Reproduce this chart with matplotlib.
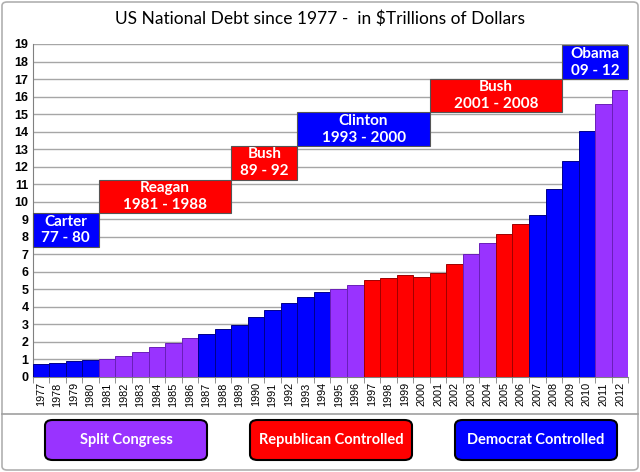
import numpy as np
import matplotlib.pyplot as plt
from matplotlib.patches import Rectangle, FancyBboxPatch
from matplotlib.lines import Line2D

# data
years = list(range(1977, 2013))
debt = [0.72, 0.80, 0.88, 0.97, 1.01, 1.20, 1.43, 1.68, 1.94, 2.23,
        2.44, 2.71, 2.95, 3.39, 3.83, 4.19, 4.55, 4.82, 4.99, 5.22,
        5.51, 5.64, 5.79, 5.70, 5.94, 6.44, 7.01, 7.62, 8.17, 8.71,
        9.26, 10.74, 12.34, 14.04, 15.60, 16.40]
# congress control: S = split, R = republican, D = democrat
control = ['D'] * 4 + ['S'] * 6 + ['D'] * 8 + ['S'] * 2 + ['R'] * 6 + \
          ['S'] * 2 + ['R'] * 2 + ['D'] * 4 + ['S'] * 2

colors = {'S': '#9933FF', 'R': '#FF0000', 'D': '#0000FF'}
edges = {'S': '#6a1fb8', 'R': '#a00000', 'D': '#00008a'}

# presidential terms
pres_names = ['Carter', 'Reagan', 'Bush', 'Clinton', 'Bush', 'Obama']
pres_years = ['77 - 80', '1981 - 1988', '89 - 92', '1993 - 2000', '2001 - 2008', '09 - 12']
pres_start = [1977, 1981, 1989, 1993, 2001, 2009]
pres_end = [1980, 1988, 1992, 2000, 2008, 2012]
pres_party = ['D', 'R', 'R', 'D', 'R', 'D']
pres_low = [7.42, 9.34, 11.25, 13.17, 15.09, 17.0]
box_h = 1.92

legend_labels = ['Split Congress', 'Republican Controlled', 'Democrat Controlled']
legend_keys = ['S', 'R', 'D']

W, H = 640, 472
fig = plt.figure(figsize=(W / 100, H / 100), dpi=100)
fig.patch.set_facecolor('white')

ax = fig.add_axes([32.7 / W, 1 - 376.7 / H, (628.3 - 32.7) / W, (376.7 - 44) / H])

x = np.arange(len(years))
ax.bar(x, debt, width=1.0, color=[colors[c] for c in control],
       edgecolor=[edges[c] for c in control], linewidth=0.7, zorder=3)

ax.set_xlim(-0.5, len(years) - 0.5)
ax.set_ylim(0, 19)
ax.set_yticks(range(0, 20))
ax.yaxis.grid(True, color='#a6a6a6', linewidth=1.0, zorder=0)
ax.set_axisbelow(True)
for s in ['top', 'right']:
    ax.spines[s].set_visible(False)
ax.spines['left'].set_color('#808080')
ax.spines['bottom'].set_color('#808080')
ax.tick_params(axis='y', length=0, pad=3, labelsize=9)
for lab in ax.get_yticklabels():
    lab.set_fontweight('bold')
    lab.set_family('Liberation Sans')

ax.set_xticks(x)
ax.set_xticklabels([str(y) for y in years], rotation=90, fontsize=7.8, family='Liberation Sans')
ax.set_xticks(np.arange(-0.5, len(years)), minor=True)
ax.tick_params(axis='x', which='major', length=0, pad=4)
ax.tick_params(axis='x', which='minor', length=4, color='#808080')

# presidential term boxes
for name, yrs, s, e, p, lo in zip(pres_names, pres_years, pres_start, pres_end, pres_party, pres_low):
    x0 = years.index(s) - 0.5
    x1 = years.index(e) + 0.5
    ax.add_patch(Rectangle((x0, lo), x1 - x0, box_h, facecolor=colors[p],
                           edgecolor='#555555', linewidth=0.8, zorder=4, clip_on=False))
    ax.text((x0 + x1) / 2, lo + box_h * 0.75, name, color='white', ha='center', va='center',
            fontsize=11, fontweight='bold', family='Lato', zorder=5)
    ax.text((x0 + x1) / 2, lo + box_h * 0.25, yrs, color='white', ha='center', va='center',
            fontsize=11, fontweight='bold', family='Lato', zorder=5)

fig.text(0.5, 1 - 19 / H, 'US National Debt since 1977 -  in $Trillions of Dollars',
         ha='center', va='center', fontsize=12.5, family='Lato')

# legend area
fig.add_artist(Line2D([2 / W, 638 / W], [1 - 414 / H, 1 - 414 / H], color='#a0a0a0', linewidth=1.2))
lx = [45, 250, 455]
for left, lab, k in zip(lx, legend_labels, legend_keys):
    fig.add_artist(FancyBboxPatch((left / W, 1 - 460 / H), 162 / W, 40 / H,
                                  boxstyle='round,pad=0,rounding_size=0.012',
                                  facecolor=colors[k], edgecolor='black', linewidth=1.5,
                                  transform=fig.transFigure))
    fig.text((left + 81) / W, 1 - 440 / H, lab, color='white', ha='center', va='center',
             fontsize=10.5, fontweight='bold', family='Lato')

# outer chart border
fig.add_artist(FancyBboxPatch((2 / W, 2 / H), 636 / W, 468 / H,
                              boxstyle='round,pad=0,rounding_size=0.008',
                              facecolor='none', edgecolor='#b0b0b0', linewidth=1.2,
                              transform=fig.transFigure))

fig.savefig('out.png', dpi=100)
